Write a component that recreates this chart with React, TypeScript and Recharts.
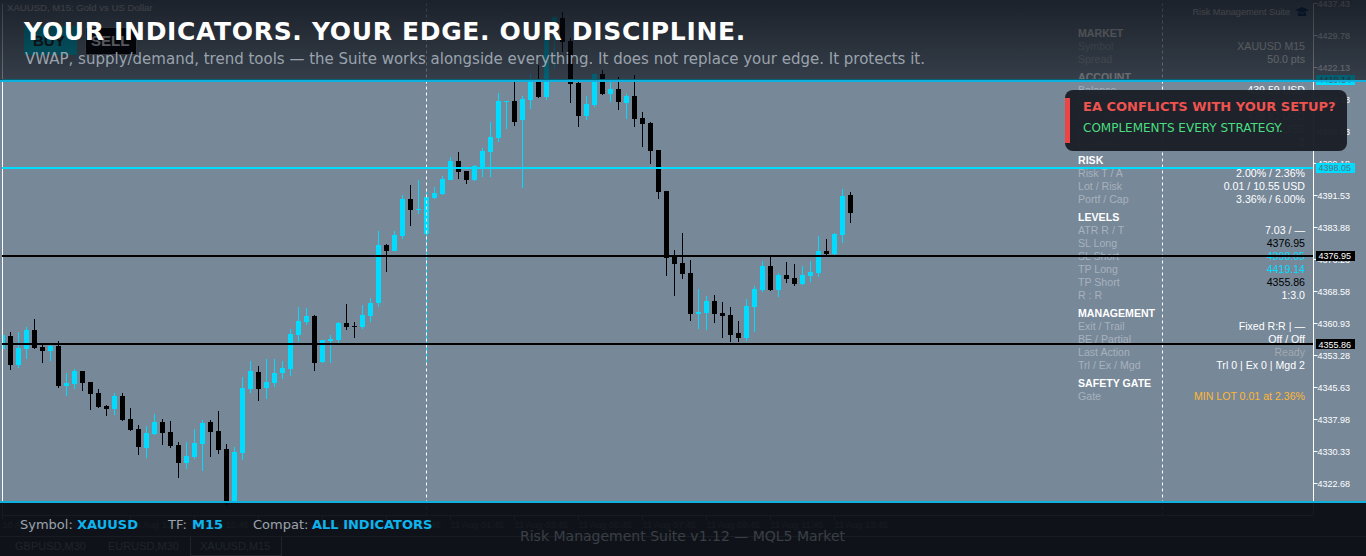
import { Bar, ComposedChart, ReferenceLine, XAxis, YAxis } from "recharts";

const BULL = "#00dcff";
const BEAR = "#000000";
const SANS = "'Liberation Sans', Arial, sans-serif";
const DEJAVU = "'DejaVu Sans', sans-serif";

const opens = [
  4354.84, 4357.95, 4351.01, 4354.84, 4359.38, 4355.32, 4354.36, 4355.55, 4345.99, 4346.47,
  4349.58, 4346.95, 4344.32, 4341.21, 4340.49, 4343.6, 4338.1, 4335.71, 4331.17, 4334.52,
  4337.39, 4334.99, 4331.89, 4327.59, 4329.02, 4332.13, 4337.39, 4335.23, 4330.93, 4318.02,
  4329.97, 4345.27, 4349.34, 4345.51, 4346.71, 4349.1, 4350.06, 4358.19, 4361.29, 4362.73,
  4351.73, 4356.75, 4356.99, 4361.05, 4360.34, 4360.1, 4362.73, 4365.84, 4379.7, 4378.27,
  4381.85, 4390.7, 4388.15, 4382.33, 4390.94, 4391.89, 4395.24, 4399.78, 4397.39, 4395.24,
  4398.35, 4401.93, 4405.28, 4413.89, 4414.12, 4409.58, 4414.36, 4418.67, 4415.08, 4432.77,
  4433.97, 4428.47, 4418.43, 4410.54, 4413.17, 4420.58, 4415.8, 4416.99, 4413.65, 4415.32,
  4410.06, 4408.87, 4402.41, 4392.61, 4377.07, 4375.4, 4373.01, 4363.21, 4363.45, 4366.32,
  4363.45, 4362.97, 4358.67, 4357.47, 4364.88, 4368.95, 4374.68, 4368.95, 4372.53, 4371.82,
  4370.38, 4372.29, 4373.01, 4378.27, 4377.55, 4382.09, 4391.66,
];
const highs = [
  4358.19, 4358.9, 4358.9, 4360.1, 4362.01, 4356.03, 4356.03, 4356.75, 4349.1, 4350.06,
  4349.58, 4346.95, 4345.27, 4341.45, 4344.32, 4344.32, 4340.73, 4336.67, 4336.43, 4339.3,
  4338.1, 4337.62, 4332.61, 4332.61, 4335.71, 4337.86, 4337.86, 4340.02, 4332.13, 4331.41,
  4348.14, 4351.97, 4350.78, 4352.45, 4352.45, 4351.97, 4359.62, 4364.88, 4364.64, 4362.97,
  4356.99, 4358.19, 4361.29, 4365.6, 4361.29, 4365.36, 4367.03, 4383.05, 4379.94, 4383.05,
  4391.65, 4394.04, 4395.24, 4392.85, 4393.57, 4396.2, 4400.74, 4401.93, 4397.39, 4398.82,
  4402.89, 4409.1, 4416.04, 4414.12, 4418.91, 4415.32, 4420.58, 4422.73, 4429.9, 4434.45,
  4435.4, 4429.19, 4418.67, 4415.32, 4420.58, 4421.54, 4418.67, 4419.86, 4415.8, 4420.34,
  4411.49, 4409.1, 4402.41, 4392.61, 4378.51, 4382.57, 4376.12, 4369.19, 4367.51, 4367.75,
  4366.08, 4364.88, 4361.54, 4366.79, 4369.9, 4375.88, 4377.07, 4373.01, 4375.64, 4375.16,
  4374.68, 4375.88, 4381.86, 4381.14, 4382.57, 4393.09, 4392.37,
];
const lows = [
  4354.84, 4349.82, 4350.3, 4352.45, 4354.84, 4351.49, 4351.97, 4345.51, 4343.6, 4345.27,
  4344.8, 4340.26, 4340.73, 4338.82, 4339.06, 4337.62, 4335.23, 4329.5, 4328.78, 4334.28,
  4331.89, 4331.17, 4324.0, 4326.15, 4328.54, 4325.67, 4329.02, 4329.74, 4317.07, 4317.78,
  4328.3, 4344.32, 4342.41, 4342.89, 4345.75, 4347.67, 4348.38, 4356.51, 4360.57, 4349.58,
  4351.49, 4351.49, 4356.27, 4359.38, 4357.47, 4359.62, 4361.29, 4364.88, 4373.25, 4378.27,
  4381.13, 4384.24, 4387.11, 4351.73, 4390.7, 4391.65, 4395.24, 4395.48, 4394.28, 4395.0,
  4395.96, 4395.96, 4404.32, 4407.43, 4408.15, 4393.33, 4412.21, 4414.84, 4414.36, 4421.77,
  4425.84, 4413.65, 4407.91, 4409.58, 4412.69, 4415.56, 4413.89, 4411.97, 4409.82, 4407.91,
  4403.13, 4399.06, 4390.7, 4372.29, 4367.51, 4371.58, 4361.54, 4359.62, 4359.38, 4361.06,
  4357.47, 4356.52, 4356.52, 4356.75, 4358.91, 4368.47, 4368.71, 4367.27, 4370.62, 4369.9,
  4370.14, 4370.86, 4372.05, 4377.31, 4377.31, 4380.18, 4384.96,
];
const closes = [
  4358.19, 4351.01, 4355.08, 4359.38, 4355.08, 4354.36, 4355.55, 4345.99, 4346.71, 4349.58,
  4346.71, 4344.08, 4340.97, 4340.49, 4343.6, 4337.86, 4335.47, 4331.41, 4334.76, 4337.39,
  4334.76, 4331.65, 4327.59, 4329.26, 4332.37, 4337.15, 4334.99, 4330.69, 4317.54, 4330.21,
  4345.51, 4349.58, 4345.27, 4346.95, 4349.1, 4350.3, 4358.43, 4361.53, 4362.73, 4351.49,
  4356.99, 4357.23, 4361.05, 4360.1, 4360.1, 4362.97, 4365.84, 4379.7, 4378.27, 4382.09,
  4390.7, 4388.07, 4388.39, 4391.17, 4392.13, 4395.48, 4399.78, 4397.15, 4395.24, 4398.59,
  4402.17, 4405.52, 4414.12, 4414.12, 4409.1, 4414.6, 4419.15, 4415.08, 4429.9, 4434.21,
  4428.23, 4418.19, 4410.54, 4413.41, 4420.58, 4415.8, 4416.99, 4413.89, 4415.32, 4409.82,
  4408.63, 4402.17, 4392.37, 4376.6, 4375.16, 4372.77, 4363.21, 4363.69, 4366.32, 4363.21,
  4362.73, 4358.19, 4357.47, 4365.12, 4369.19, 4374.68, 4368.95, 4372.53, 4371.58, 4370.38,
  4372.53, 4373.25, 4378.27, 4377.55, 4382.33, 4391.42, 4387.35,
];

const priceTicks = [
  4437.43, 4429.78, 4422.13, 4414.48, 4406.83, 4399.18, 4391.53, 4383.88, 4376.23, 4368.58,
  4360.93, 4353.28, 4345.63, 4337.98, 4330.33, 4322.68,
];
const timeSlots = [0, 8, 16, 24, 32, 40, 48, 56, 64, 72, 80, 88, 96, 104];
const timeLabels = [
  "10 Aug 09:45", "10 Aug 11:45", "10 Aug 13:45", "10 Aug 15:45", "10 Aug 17:45",
  "10 Aug 19:45", "10 Aug 21:45", "11 Aug 01:45", "11 Aug 03:45", "11 Aug 05:45",
  "11 Aug 07:45", "11 Aug 09:45", "11 Aug 11:45", "11 Aug 13:45",
];
const separatorSlots = [53, 145];
const cyanLevels = [4419.14, 4398.05];
const blackLevels = [4376.95, 4355.86];

// rows of the dashboard: text centre, label, value, value colour
const panelHeads: [number, string][] = [
  [33, "MARKET"], [77, "ACCOUNT"], [160, "RISK"], [217, "LEVELS"], [313, "MANAGEMENT"], [383, "SAFETY GATE"],
];
const panelRows: [number, string, string, string][] = [
  [46, "Symbol", "XAUUSD M15", "#fff"],
  [59, "Spread", "50.0 pts", "#fff"],
  [90, "Balance", "439.59 USD", "#fff"],
  [103, "Equity", "447.60 USD", "#fff"],
  [116, "Free Margin", "438.83 USD", "#fff"],
  [129, "Float P/L", "8.01 USD", "#fff"],
  [142, "Positions", "2", "#fff"],
  [173, "Risk T / A", "2.00% / 2.36%", "#fff"],
  [186, "Lot / Risk", "0.01 / 10.55 USD", "#fff"],
  [199, "Portf / Cap", "3.36% / 6.00%", "#fff"],
  [230, "ATR R / T", "7.03 / —", "#fff"],
  [243, "SL Long", "4376.95", "#000"],
  [256, "SL Short", "4398.05", BULL],
  [269, "TP Long", "4419.14", BULL],
  [282, "TP Short", "4355.86", "#000"],
  [295, "R : R", "1:3.0", "#fff"],
  [326, "Exit / Trail", "Fixed R:R | —", "#fff"],
  [339, "BE / Partial", "Off / Off", "#fff"],
  [352, "Last Action", "Ready", "#a3a9b0"],
  [365, "Trl / Ex / Mgd", "Trl 0 | Ex 0 | Mgd 2", "#fff"],
  [396, "Gate", "MIN LOT 0.01 at 2.36%", "#ffb733"],
];
const tabNames: [number, string][] = [[15, "GBPUSD,M30"], [108, "EURUSD,M30"], [200, "XAUUSD,M15"]];
const footerParts: [number, string, boolean][] = [
  [20, "Symbol:", false], [77, "XAUUSD", true], [168, "TF:", false], [192, "M15", true],
  [253, "Compat:", false], [312, "ALL INDICATORS", true],
];

// 164 bar slots fit on the time axis, only the first ones hold a candle
const chartRows = Array.from({ length: 164 }, (_, i) =>
  i < opens.length
    ? { slot: i, range: [lows[i], highs[i]], open: opens[i], close: closes[i], high: highs[i], low: lows[i] }
    : { slot: i }
);

const Candle = (props: any) => {
  const { x, y, width, height, payload } = props;
  if (payload.open === undefined) return null;
  const { open, close, high, low } = payload;
  const perUnit = height / (high - low);
  const top = Math.round(y + (high - Math.max(open, close)) * perUnit);
  const bottom = Math.round(y + (high - Math.min(open, close)) * perUnit);
  const color = close >= open ? BULL : BEAR;
  const left = Math.floor(x);
  return (
    <g shapeRendering="crispEdges">
      <rect x={left + 2} y={Math.round(y)} width={1} height={Math.max(Math.round(height), 1)} fill={color} />
      <rect x={left} y={top} width={width} height={Math.max(bottom - top, 1)} fill={color} />
    </g>
  );
};

const TimeTick = (props: any) => {
  const { x, y, payload } = props;
  return (
    <text x={x} y={y + 6} fontSize={9.2} fontFamily={SANS} fill="#fff" textAnchor="start">
      {timeLabels[timeSlots.indexOf(payload.value)]}
    </text>
  );
};

// drawn as ticks of a second price axis so the tags cover the normal price labels
const PriceTag = (props: any) => {
  const { y, payload } = props;
  const cyan = cyanLevels.includes(payload.value);
  return (
    <g>
      <rect x={1316} y={Math.round(y) - 5} width={39} height={10} fill={cyan ? BULL : BEAR} shapeRendering="crispEdges" />
      <text x={1318.5} y={y + 3.2} fontSize={9} fontFamily={SANS} fill={cyan ? "#56707e" : "#ffffff"}>
        {payload.value.toFixed(2)}
      </text>
    </g>
  );
};

const Txt = ({ x, y, right, color, size, bold, font, spacing, children }: any) => (
  <span
    style={{
      position: "absolute",
      left: right === undefined ? x : undefined,
      right: right === undefined ? undefined : 1366 - right,
      top: y - 10,
      lineHeight: "20px",
      color,
      fontSize: size,
      fontWeight: bold ? 700 : 400,
      fontFamily: font ?? SANS,
      letterSpacing: spacing,
      whiteSpace: "nowrap",
    }}
  >
    {children}
  </span>
);

const Box = ({ x, y, w, h, style }: any) => (
  <div style={{ position: "absolute", left: x, top: y, width: w, height: h, ...style }} />
);

export default function App() {
  return (
    <div style={{ position: "fixed", left: 0, top: 0, width: 1366, height: 556, overflow: "hidden", background: "#778899" }}>
      {/* dashboard, sits under the chart lines */}
      <Txt right={1290} y={12} color="#fff" size={9.2}>Risk Management Suite</Txt>
      <svg style={{ position: "absolute", left: 1295, top: 6 }} width={14} height={12}>
        <polygon points="0,4 7,1 14,4 7,7" fill="#123a6b" />
        <polygon points="3,6 7,8 11,6 11,10 3,10" fill="#123a6b" />
      </svg>
      {panelHeads.map(([y, name]) => (
        <Txt key={name} x={1078} y={y} color="#fff" size={10.6} bold>{name}</Txt>
      ))}
      {panelRows.map(([y, label, value, color]) => (
        <span key={label}>
          <Txt x={1078} y={y} color="#a8b2bc" size={10.6}>{label}</Txt>
          <Txt right={1305} y={y} color={color} size={10.6}>{value}</Txt>
        </span>
      ))}

      <div style={{ position: "absolute", left: 0, top: 0 }}>
        <ComposedChart
          width={1366}
          height={556}
          data={chartRows}
          margin={{ top: 3.5, right: 0, bottom: 0, left: -1.5 }}
          barCategoryGap={0}
        >
          <XAxis
            dataKey="slot"
            type="category"
            ticks={timeSlots}
            interval={0}
            height={40.5}
            padding={{ left: 0, right: 3 }}
            stroke="#ffffff"
            tickSize={4}
            tick={<TimeTick />}
            allowDuplicatedCategory={false}
          />
          <YAxis
            orientation="right"
            width={52.5}
            domain={[4315.03, 4437.43]}
            ticks={priceTicks}
            interval={0}
            allowDataOverflow
            stroke="#ffffff"
            tickSize={4}
            tickMargin={0}
            tick={{ fill: "#ffffff", fontSize: 9, fontFamily: SANS }}
            tickFormatter={(v: number) => v.toFixed(2)}
          />
          <YAxis
            yAxisId="tags"
            orientation="right"
            mirror
            width={1}
            domain={[4314.96, 4437.36]}
            ticks={[...cyanLevels, ...blackLevels]}
            interval={0}
            allowDataOverflow
            axisLine={false}
            tickLine={false}
            tick={<PriceTag />}
          />
          <Bar dataKey="range" barSize={5} shape={<Candle />} isAnimationActive={false} />
          <ReferenceLine x={0} stroke="#ffffff" strokeWidth={1} />
          {separatorSlots.map((slot) => (
            <ReferenceLine key={slot} x={slot} stroke="#ffffff" strokeDasharray="3 3" />
          ))}
          {cyanLevels.map((price) => (
            <ReferenceLine key={price} yAxisId="tags" y={price} stroke={BULL} strokeWidth={2} shapeRendering="crispEdges" />
          ))}
          {blackLevels.map((price) => (
            <ReferenceLine key={price} yAxisId="tags" y={price} stroke={BEAR} strokeWidth={2} shapeRendering="crispEdges" />
          ))}
        </ComposedChart>
      </div>

      {/* left of the chart frame */}
      <Box x={0} y={0} w={2} h={556} style={{ background: "#778899" }} />

      {/* things under the top banner */}
      <Txt x={7} y={8} color="#fff" size={9.6}>XAUUSD, M15:  Gold vs US Dollar</Txt>
      <Box x={24} y={26} w={53} h={29} style={{ background: "#00cfe8" }} />
      <Txt x={33} y={41} color="#222" size={15} bold>BUY</Txt>
      <Box x={85} y={27} w={52} h={28} style={{ background: "#000", border: "1px solid #999", boxSizing: "border-box" }} />
      <Txt x={91} y={41} color="#fff" size={15} bold>SELL</Txt>

      <Box
        x={0}
        y={0}
        w={1366}
        h={80}
        style={{ background: "linear-gradient(rgba(5,8,15,0.8), rgba(5,8,15,0.58))" }}
      />
      <Box x={0} y={80} w={1366} h={2} style={{ background: "#0eb1de" }} />
      <Box x={0} y={501} w={1366} h={55} style={{ background: "rgba(8,12,17,0.94)" }} />
      <Box x={0} y={501} w={1366} h={2} style={{ background: "#0eb1de" }} />
      {tabNames.map(([x, name]) => (
        <Txt key={name} x={x} y={546} color="#1f242b" size={11}>{name}</Txt>
      ))}
      <Box x={190} y={536} w={92} h={20} style={{ border: "1px solid #1f242b", boxSizing: "border-box" }} />
      <Box x={0} y={536} w={1366} h={1} style={{ background: "#181c23" }} />

      {/* banner copy */}
      <Txt x={24} y={31.5} color="#ffffff" size={25} bold font={DEJAVU} spacing={0.67}>
        YOUR INDICATORS. YOUR EDGE. OUR DISCIPLINE.
      </Txt>
      <Txt x={25} y={59} color="#9aa3ad" size={15} font={DEJAVU}>
        VWAP, supply/demand, trend tools — the Suite works alongside everything. It does not replace your edge. It protects it.
      </Txt>

      {footerParts.map(([x, text, strong]) => (
        <Txt key={text} x={x} y={525} color={strong ? "#0db4ef" : "#9ca3af"} size={13} bold={strong} font={DEJAVU}>
          {text}
        </Txt>
      ))}
      <Txt x={520} y={536} color="#3a3f46" size={14} font={DEJAVU}>Risk Management Suite v1.12 — MQL5 Market</Txt>

      {/* callout */}
      <Box x={1065} y={90} w={282} h={61} style={{ background: "rgba(27,31,39,0.97)", borderRadius: 8 }} />
      <Box x={1065} y={98} w={5} h={45} style={{ background: "#ef4444" }} />
      <Txt x={1083} y={107} color="#ef5350" size={13} bold font={DEJAVU}>EA CONFLICTS WITH YOUR SETUP?</Txt>
      <Txt x={1083} y={128} color="#4ade80" size={12} font={DEJAVU}>COMPLEMENTS EVERY STRATEGY.</Txt>
    </div>
  );
}
